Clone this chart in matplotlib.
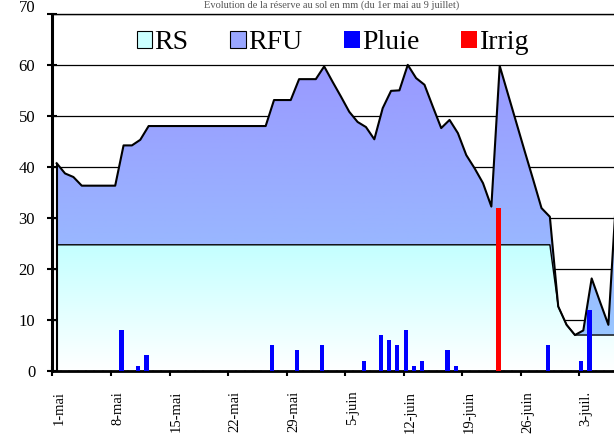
import numpy as np
import matplotlib
matplotlib.use('Agg')
import matplotlib.pyplot as plt
from matplotlib.colors import LinearSegmentedColormap
from matplotlib.patches import Patch
from matplotlib.transforms import ScaledTranslation

plt.rcParams['font.family'] = 'serif'
plt.rcParams['font.serif'] = ['Liberation Serif', 'DejaVu Serif']

# jour 0 = 1er mai
total = [40.7, 38.7, 38.0, 36.3, 36.3, 36.3, 36.3, 36.3, 44.2, 44.2,
         45.3, 48.0, 48.0, 48.0, 48.0, 48.0, 48.0, 48.0, 48.0, 48.0,
         48.0, 48.0, 48.0, 48.0, 48.0, 48.0, 53.1, 53.1, 53.1, 57.2,
         57.2, 57.2, 59.7, 56.7, 53.8, 50.8, 48.8, 47.8, 45.4, 51.5,
         54.9, 55.0, 60.0, 57.4, 56.1, 51.8, 47.6, 49.2, 46.6, 42.3,
         39.7, 36.8, 32.2, 59.8, 54.2, 48.6, 43.0, 37.5, 31.9, 30.2,
         12.6, 9.0, 7.0, 7.9, 18.1, 13.5, 9.0, 36.0]
rs = [24.7, 24.7, 24.7, 24.7, 24.7, 24.7, 24.7, 24.7, 24.7, 24.7,
      24.7, 24.7, 24.7, 24.7, 24.7, 24.7, 24.7, 24.7, 24.7, 24.7,
      24.7, 24.7, 24.7, 24.7, 24.7, 24.7, 24.7, 24.7, 24.7, 24.7,
      24.7, 24.7, 24.7, 24.7, 24.7, 24.7, 24.7, 24.7, 24.7, 24.7,
      24.7, 24.7, 24.7, 24.7, 24.7, 24.7, 24.7, 24.7, 24.7, 24.7,
      24.7, 24.7, 24.7, 24.7, 24.7, 24.7, 24.7, 24.7, 24.7, 24.7,
      12.6, 9.0, 7.0, 7.0, 7.0, 7.0, 7.0, 7.0]
pluie_jour = [8, 10, 11, 26, 29, 32, 37, 39, 40, 41, 42, 43, 44, 47, 48, 59, 63, 64]
pluie_mm = [8, 1, 3, 5, 4, 5, 2, 7, 6, 5, 8, 1, 2, 4, 1, 5, 2, 12]
irrig_jour = [53]
irrig_mm = [32]
dates = ["1-mai", "8-mai", "15-mai", "22-mai", "29-mai",
         "5-juin", "12-juin", "19-juin", "26-juin", "3-juil."]

jours = np.arange(len(total))

fig = plt.figure(figsize=(6.14, 4.37), dpi=100)
ax = fig.add_axes([0.0855, 0.1517, 0.953, 0.8165])


def aire_degrade(bas, haut, c_haut, c_bas, ymax):
    poly = ax.fill_between(jours, bas, haut, facecolor='none', edgecolor='none', zorder=2)
    cmap = LinearSegmentedColormap.from_list('d', [c_bas, c_haut])
    im = ax.imshow(np.linspace(0, 1, 256).reshape(-1, 1), cmap=cmap, origin='lower',
                   aspect='auto', extent=[jours[0], jours[-1], 0, ymax], zorder=2)
    im.set_clip_path(poly.get_paths()[0], transform=ax.transData)


aire_degrade(np.zeros(len(rs)), rs, '#C4FFFF', '#FFFFFF', max(rs))
aire_degrade(rs, total, '#9999FF', '#99CCFF', 60)

ax.plot(jours, rs, color='black', lw=1.0, zorder=3)
ax.plot(jours, total, color='black', lw=1.5, zorder=3)
ax.vlines(jours[0], 0, total[0], color='black', lw=1.5, zorder=3)

ax.bar(np.array(pluie_jour) - 0.25, pluie_mm, width=0.5, color='#0000FF', zorder=4)
ax.bar(np.array(irrig_jour) - 0.15, irrig_mm, width=0.5, color='#FF0000', zorder=4)

ax.set_xlim(-0.5, 69.5)
ax.set_ylim(0, 70)
ax.set_yticks(range(0, 71, 10))
ax.yaxis.grid(True, color='black', lw=0.9)
ax.set_axisbelow(True)

ax.set_xticks(np.arange(0, 64, 7) - 0.5, labels=dates)
ax.set_xticks(np.arange(len(total)) - 0.5, minor=True)
ax.tick_params(axis='x', which='major', direction='inout', length=7, width=1.5,
               pad=11, labelsize=10.5, labelrotation=90)
ax.tick_params(axis='x', which='minor', direction='in', length=2.2, width=1.4)
ax.tick_params(axis='y', direction='inout', length=7, width=1.5, pad=9, labelsize=12)

for lab in ax.get_xticklabels():
    lab.set_transform(lab.get_transform() + ScaledTranslation(0.07, 0, fig.dpi_scale_trans))
haut = ax.get_yticklabels()[-1]
haut.set_transform(haut.get_transform() + ScaledTranslation(0, 0.08, fig.dpi_scale_trans))

ax.spines['left'].set_linewidth(2.2)
ax.spines['bottom'].set_linewidth(2.0)
ax.spines['top'].set_linewidth(1.0)
ax.spines['right'].set_visible(False)

handles = [Patch(facecolor='#CCFFFF', edgecolor='black', lw=0.8),
           Patch(facecolor='#99A6FF', edgecolor='black', lw=0.8),
           Patch(facecolor='#0000FF'),
           Patch(facecolor='#FF0000')]
fig.legend(handles, ['RS', 'RFU', 'Pluie', 'Irrig'], loc='center',
           bbox_to_anchor=(0.542, 0.902), ncol=4, frameon=False, fontsize=20,
           handlelength=0.55, handleheight=0.55, handletextpad=0.1,
           columnspacing=1.5, borderaxespad=0)

fig.text(0.54, 1.0, "Evolution de la réserve au sol en mm (du 1er mai au 9 juillet)",
         ha='center', va='top', fontsize=7.5, color='#555555')

fig.savefig('out.png', dpi=100)
